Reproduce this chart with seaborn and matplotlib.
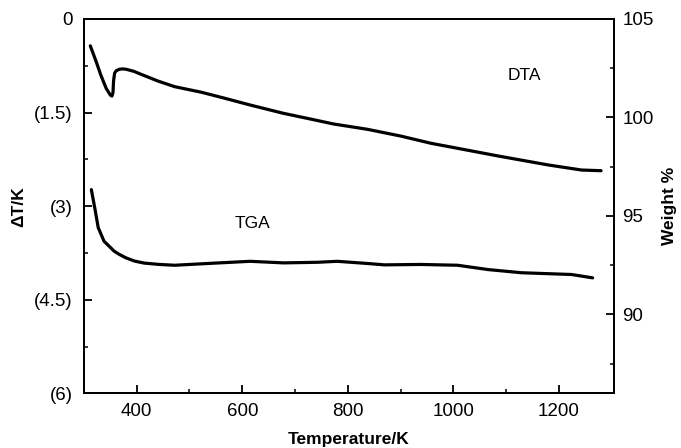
import numpy as np
import pandas as pd
import matplotlib
matplotlib.use('Agg')
import matplotlib.pyplot as plt
import seaborn as sns

# DTA curve (left axis, delta T in K, negative downwards)
dta_temp = [312, 323, 332, 342, 350, 353, 355, 356, 358, 361, 367, 373, 380, 395, 408, 440,
            472, 523, 567, 615, 678, 729, 773, 837, 900, 958, 1002, 1085, 1180, 1243, 1280]
dta_dt = [-0.43, -0.68, -0.90, -1.11, -1.22, -1.235, -1.18, -1.00, -0.87, -0.83, -0.806,
          -0.80, -0.806, -0.84, -0.886, -0.994, -1.085, -1.175, -1.271, -1.379, -1.512,
          -1.603, -1.683, -1.768, -1.876, -1.993, -2.063, -2.196, -2.340, -2.421, -2.432]

# TGA curve (right axis, weight %)
tga_temp = [314, 321, 327, 338, 357, 367, 380, 396, 414, 443, 472, 535, 615, 678, 742, 780,
            837, 869, 938, 1008, 1066, 1129, 1224, 1264]
tga_wt = [96.34, 95.33, 94.41, 93.72, 93.22, 93.05, 92.87, 92.71, 92.61, 92.54, 92.50,
          92.59, 92.70, 92.62, 92.65, 92.70, 92.59, 92.52, 92.54, 92.50, 92.28, 92.12,
          92.03, 91.86]

left_ticks = [0, -1.5, -3, -4.5, -6]
left_labels = ['0', '(1.5)', '(3)', '(4.5)', '(6)']
right_ticks = [90, 95, 100, 105]
x_ticks = [400, 600, 800, 1000, 1200]

dta = pd.DataFrame({'T': dta_temp, 'dT': dta_dt})
tga = pd.DataFrame({'T': tga_temp, 'w': tga_wt})

sns.set_style('ticks')
plt.rcParams['font.family'] = ['Liberation Sans', 'DejaVu Sans']
plt.rcParams['text.color'] = 'black'
plt.rcParams['axes.labelcolor'] = 'black'

fig = plt.figure(figsize=(6.81, 4.48), dpi=100, facecolor='white')
ax = fig.add_axes([0.1233, 0.1221, 0.7787, 0.8355])
ax2 = ax.twinx()

sns.lineplot(data=dta, x='T', y='dT', sort=False, estimator=None, ax=ax, color='black', lw=2.3,
             solid_joinstyle='round', solid_capstyle='round')
sns.lineplot(data=tga, x='T', y='w', sort=False, estimator=None, ax=ax2, color='black', lw=2.3,
             solid_joinstyle='round', solid_capstyle='round')

ax.set_xlim(300, 1305)
ax.set_ylim(-6, 0)
ax2.set_ylim(86, 105)

ax.set_xticks(x_ticks)
ax.set_xticks([500, 700, 900, 1100], minor=True)
ax.set_yticks(left_ticks)
ax.set_yticklabels(left_labels)
ax.set_yticks([-0.75, -2.25, -3.75, -5.25], minor=True)
ax2.set_yticks(right_ticks)
ax2.set_yticks([87.5, 92.5, 97.5, 102.5], minor=True)

for a in (ax, ax2):
    a.tick_params(which='major', direction='in', length=6, width=1.3, labelsize=13.5,
                  colors='black', labelcolor='black')
    a.tick_params(which='minor', direction='in', length=3, width=1.1, colors='black')
    for s in a.spines.values():
        s.set_linewidth(1.4)
        s.set_color('black')
ax.tick_params(axis='y', pad=8)
ax.tick_params(axis='x', pad=7)
ax2.tick_params(axis='y', pad=6)

ax.set_xlabel('Temperature/K', fontsize=12.5, fontweight='bold', color='black')
ax.set_ylabel('ΔT/K', fontsize=12.5, fontweight='bold', color='black')
ax2.set_ylabel('Weight %', fontsize=12.5, fontweight='bold', color='black')
ax.xaxis.set_label_coords(0.5, -0.103)
ax.yaxis.set_label_coords(-0.108, 0.5)
ax2.yaxis.set_label_coords(1.09, 0.5)

ax.text(1135, -0.9, 'DTA', fontsize=12.5, ha='center', va='center', color='black')
ax2.text(620, 94.6, 'TGA', fontsize=12.5, ha='center', va='center', color='black')

fig.savefig('out.png', dpi=100, facecolor='white')
